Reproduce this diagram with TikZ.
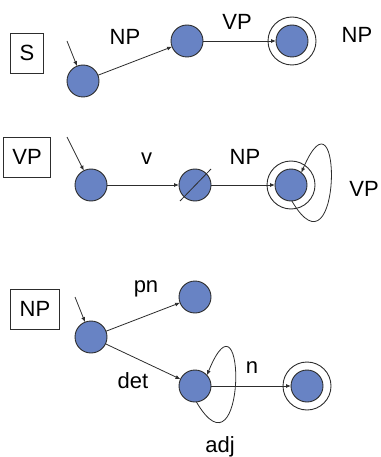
\documentclass[tikz,border=0pt]{standalone}
\usepackage{fontspec}
\setmainfont{Liberation Sans}
\usepackage{tikz}
\usepackage{tkz-graph}
\usetikzlibrary{arrows.meta}

\definecolor{StateBlue}{RGB}{104,131,196}
\definecolor{LineGray}{RGB}{45,45,45}

\begin{document}
\begin{tikzpicture}[x=1pt,y=-1pt,font=\fontsize{22}{26}\selectfont]
        \useasboundingbox (0,0) rectangle (380,457);
        \GraphInit[vstyle=normal]
        \tikzset{VertexStyle/.style={shape=circle, draw=LineGray, line width=0.9pt,
                   fill=StateBlue, minimum size=32pt, inner sep=0pt},
                 EdgeStyle/.style={draw=LineGray, line width=0.8pt,
                   -{Latex[length=5pt,width=4pt]}},
                 RingStyle/.style={shape=circle, draw=LineGray, line width=0.9pt,
                   minimum size=48pt, inner sep=0pt},
                 BoxStyle/.style={draw=LineGray, line width=0.9pt,
                   minimum height=40pt, inner xsep=9pt}}
        % S net
        \node[BoxStyle] (s1box) at (27,53) {S};
        \Vertex[x=83,y=81,NoLabel=true]{s1a}
        \Vertex[x=187,y=41,NoLabel=true]{s1b}
        \Vertex[x=292,y=41,NoLabel=true]{s1c}
        \node[RingStyle] (s1ring) at (s1c) {};
        \coordinate (s1in) at (67,41);
        \Edge(s1in)(s1a)
        \Edge(s1a)(s1b)
        \Edge(s1b)(s1c)
        \node (s1np) at (125,36.5) {NP};
        \node (s1vp) at (237,21.5) {VP};
        \node (s1fin) at (357,35) {NP};
        % VP net
        \node[BoxStyle] (s2box) at (27,157) {VP};
        \Vertex[x=91,y=185,NoLabel=true]{s2a}
        \Vertex[x=195,y=185,NoLabel=true]{s2b}
        \Vertex[x=291,y=185,NoLabel=true]{s2c}
        \node[RingStyle] (s2ring) at (s2c) {};
        \coordinate (s2in) at (67,137);
        \Edge(s2in)(s2a)
        \Edge(s2a)(s2b)
        \Edge(s2b)(s2c)
        \draw[draw=LineGray, line width=0.8pt]
          ([shift={(-15,16)}]s2b.center) -- ([shift={(16,-16)}]s2b.center);
        \draw[EdgeStyle] (s2c.-87) .. controls +(50,85) and +(42,-98) .. (s2c.50);
        \node (s2v) at (146.5,159) {v};
        \node (s2np) at (245,156.5) {NP};
        \node (s2vp) at (364,189) {VP};
        % NP net
        \node[BoxStyle] (s3box) at (35,309) {NP};
        \Vertex[x=91,y=337,NoLabel=true]{s3a}
        \Vertex[x=195,y=297,NoLabel=true]{s3b}
        \Vertex[x=195,y=386,NoLabel=true]{s3c}
        \Vertex[x=307,y=386,NoLabel=true]{s3d}
        \node[RingStyle] (s3ring) at (s3d) {};
        \coordinate (s3in) at (75,297);
        \Edge(s3in)(s3a)
        \Edge(s3a)(s3b)
        \Edge(s3a)(s3c)
        \Edge(s3c)(s3d)
        \draw[EdgeStyle] (s3c.-85) .. controls +(50,85) and +(40,-98) .. (s3c.42);
        \node (s3pn) at (146,289) {pn};
        \node (s3det) at (133,381) {det};
        \node (s3n) at (252,367.5) {n};
        \node (s3adj) at (220,447) {adj};
\end{tikzpicture}
\end{document}
